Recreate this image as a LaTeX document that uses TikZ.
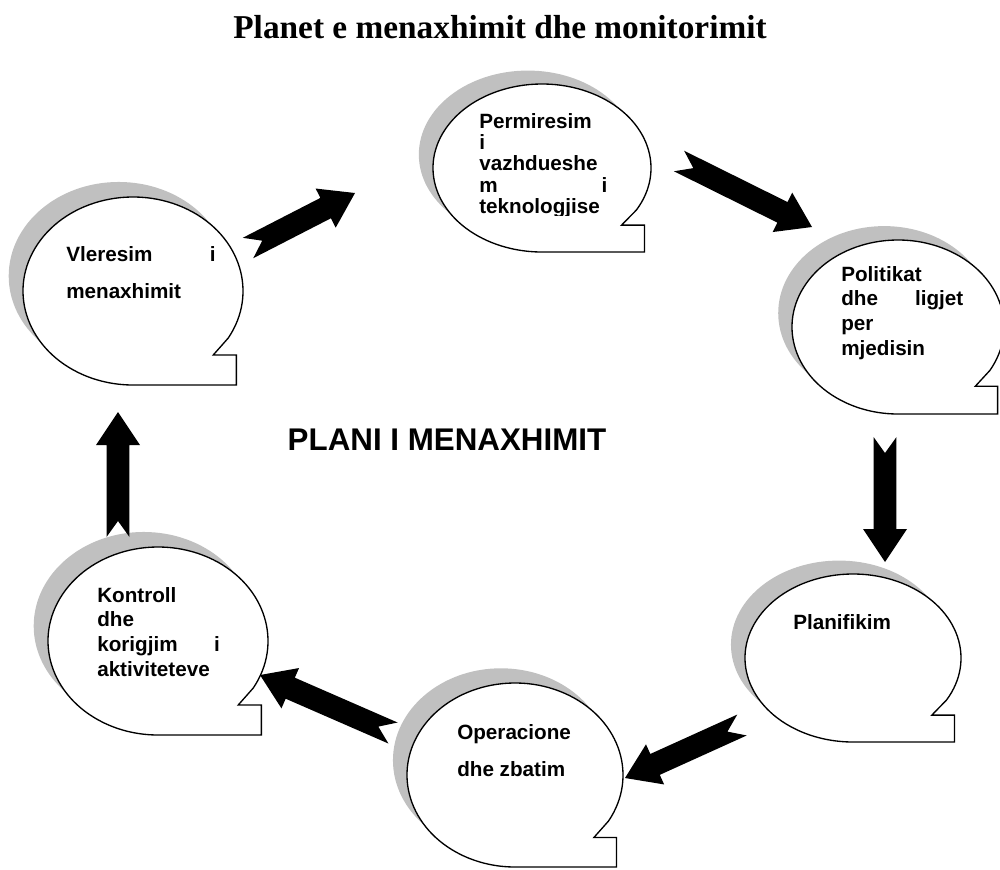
\documentclass[tikz,border=0pt]{standalone}
\usepackage{fontspec}
\setmainfont{Liberation Sans}
\newfontfamily\titlefont{Liberation Serif}
\usetikzlibrary{calc}
\definecolor{shadowgray}{RGB}{192,192,192}

% one line stretched over the whole text width
\newcommand{\spread}[2]{\noindent\hbox to\hsize{#1\hfill#2}}

% thick arrow with a notched tail, from #1 to #2
\newcommand{\blockarrow}[2]{%
  \coordinate (notch) at ($(#1)!12pt!(#2)$);
  \coordinate (hbase) at ($(#2)!24.75pt!(#1)$);
  \fill ($(#1)!8.6pt!90:(#2)$) -- (notch) -- ($(#1)!8.6pt!-90:(#2)$)
    -- ($(hbase)!8.6pt!-90:(#2)$) -- ($(hbase)!16.5pt!-90:(#2)$) -- (#2)
    -- ($(hbase)!16.5pt!90:(#2)$) -- ($(hbase)!8.6pt!90:(#2)$) -- cycle;}

\tikzset{
  bubble/.pic={
    \fill[shadowgray] (-0.13,0.16) circle [radius=1];
    \draw[fill=white,line width=1pt] (0,-1) -- (0.94,-1) -- (0.94,-0.68) -- (0.73,-0.68)
      -- (-30:1) arc[start angle=-30,end angle=270,radius=1] -- cycle;
  }
}

\begin{document}
\begin{tikzpicture}[x=0.75pt,y=-0.75pt,
  bubtext/.style={anchor=north west,inner sep=0pt,align=left,font=\fontsize{15.5}{18.5}\selectfont\bfseries},
  tight/.style={font=\fontsize{15.5}{16}\selectfont\bfseries},
  wide/.style={font=\fontsize{15.5}{28}\selectfont\bfseries}]
\useasboundingbox (0,0) rectangle (1000,869);

\node[font=\titlefont\fontsize{25}{30}\selectfont\bfseries] (title) at (500,27) {Planet e menaxhimit dhe monitorimit};

\pic[xscale=110,yscale=-94] at (133,291) {bubble};
\pic[xscale=109,yscale=-84] at (542,168) {bubble};
\pic[xscale=106,yscale=-87] at (898,327) {bubble};
\pic[xscale=108,yscale=-84] at (853,658) {bubble};
\pic[xscale=108,yscale=-92] at (515,775) {bubble};
\pic[xscale=110,yscale=-94] at (158,641) {bubble};

\node[bubtext,wide,text width=112pt] (vleresim) at (66,246) {\spread{Vleresim}{i}\\ menaxhimit};
\begin{scope}
  \clip (460,95) rectangle (630,215);
  \node[bubtext,tight,text width=96pt] (permiresim) at (479,113) {Permiresim\\ i\\ vazhdueshe\\ \spread{m}{i}\\ teknologjise};
\end{scope}
\node[bubtext,text width=91.5pt] (politikat) at (841,266) {Politikat\\ \spread{dhe}{ligjet}\\ per\\ mjedisin};
\node[bubtext] (planifikim) at (793,614) {Planifikim};
\node[bubtext,wide] (operacione) at (457,724) {Operacione\\ dhe zbatim};
\node[bubtext,text width=92pt] (kontroll) at (97,587) {Kontroll\\ dhe\\ \spread{korigjim}{i}\\ aktiviteteve};

\node[font=\fontsize{23.5}{28}\selectfont\bfseries] (plan) at (447,440) {PLANI I MENAXHIMIT};

\coordinate (vl-out) at (248,248);
\coordinate (pe-in) at (355,193);
\coordinate (pe-out) at (679,161);
\coordinate (po-in) at (812,227);
\coordinate (po-out) at (885,437);
\coordinate (pl-in) at (885,562);
\coordinate (pl-out) at (742,725);
\coordinate (op-in) at (625,778);
\coordinate (op-out) at (393,733);
\coordinate (ko-in) at (260,675);
\coordinate (ko-out) at (118,537);
\coordinate (vl-in) at (118,412);

\blockarrow{vl-out}{pe-in}
\blockarrow{pe-out}{po-in}
\blockarrow{po-out}{pl-in}
\blockarrow{pl-out}{op-in}
\blockarrow{op-out}{ko-in}
\blockarrow{ko-out}{vl-in}
\end{tikzpicture}
\end{document}
